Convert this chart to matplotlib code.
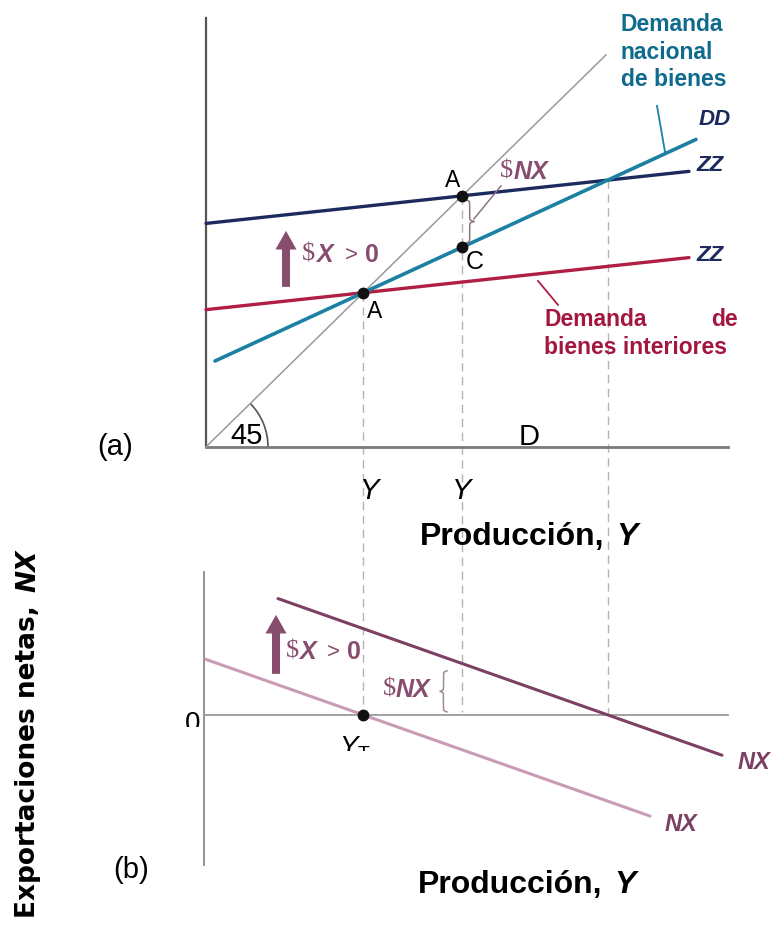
import numpy as np
import matplotlib.pyplot as plt
from matplotlib.patches import Arc, Rectangle

plt.rcParams['font.family'] = ['Liberation Sans', 'DejaVu Sans']
plt.rcParams['mathtext.fontset'] = 'custom'
plt.rcParams['mathtext.rm'] = 'Liberation Sans'
plt.rcParams['mathtext.it'] = 'Liberation Sans:italic'

# panel (a): ZZ = a + b*Y, DD = a + b*Y, 45 degree line Z = Y
zz_intercepts = [1.40, 2.28]     # before / after the rise in exports
zz_slope = 0.11
zz_span = [0.0, 4.83]
dd_intercept = 0.834
dd_slope = 0.47
dd_span = [0.09, 4.90]
diag_span = [0.0, 4.0]

# panel (b): NX = ZZ - DD
nx_spans = [[0.0, 4.44], [0.72, 5.16]]
NX_BASE = -2.735                  # vertical position of NX = 0

NAVY = '#1d2a5e'
TEAL = '#1b80a2'
TEAL_TXT = '#0f6b8c'
RED = '#b01f42'
RED_TXT = '#a3163f'
MAUVE = '#874d6e'
NX_DARK = '#7c4062'
NX_LIGHT = '#c99bb5'
DASH = '#b3b3b3'


def P(x, y):
    # pixel position -> data units
    return (x - 206) / 100, (447 - y) / 98


def zz(i, y):
    return zz_intercepts[i] + zz_slope * np.asarray(y)


def dd(y):
    return dd_intercept + dd_slope * np.asarray(y)


def nx(i, y):
    return zz(i, y) - dd(y)


fig = plt.figure(figsize=(7.77, 9.30), dpi=100)
ax = fig.add_axes([0, 0, 1, 1])
ax.set_xlim(-2.06, 5.71)
ax.set_ylim(-4.93, 4.56)
ax.axis('off')

# equilibrium points
y_t = zz_intercepts[0] / (1 - zz_slope)
y_a2 = zz_intercepts[1] / (1 - zz_slope)
y_end = (zz_intercepts[1] - dd_intercept) / (dd_slope - zz_slope)

# dashed guides running through both panels
ax.plot([y_t, y_t], [y_t, NX_BASE], color=DASH, lw=1, ls=(0, (6, 4)), zorder=1)
ax.plot([y_a2, y_a2], [y_a2, NX_BASE + 0.03], color=DASH, lw=1, ls=(0, (6, 4)), zorder=1)
ax.plot([y_end, y_end], [zz(1, y_end), NX_BASE], color=DASH, lw=1, ls=(0, (6, 4)), zorder=1)

# ---- panel (a) ----
ax.plot([0, 0], [0, P(0, 18)[1]], color='#555555', lw=1.6)
ax.plot([0, P(728, 0)[0]], [0, 0], color='#7a7a7a', lw=2)
ax.plot(diag_span, diag_span, color='#9a9a9a', lw=1.1)
ax.add_patch(Arc((0, 0), 1.24, 1.24 * 100 / 98, theta1=0, theta2=45,
                 color='#555555', lw=1.2))

x = np.array(zz_span)
ax.plot(x, zz(0, x), color=RED, lw=2.4, solid_capstyle='round')
ax.plot(x, zz(1, x), color=NAVY, lw=2.4, solid_capstyle='round')
x = np.array(dd_span)
ax.plot(x, dd(x), color=TEAL, lw=2.6, solid_capstyle='round')

ax.plot([y_t, y_a2, y_a2], [y_t, y_a2, dd(y_a2)], 'o', color='#111111', ms=7.5, zorder=5)


def brace(x0, y0, y1, w, color):
    t = np.linspace(0, 0.5, 80)
    half = 1 / (1 + np.exp(-70 * t)) + 1 / (1 + np.exp(-70 * (t - 0.5))) - 0.5
    prof = np.concatenate([half, half[-2::-1]])
    ax.plot(x0 + w * prof, np.linspace(y0, y1, prof.size), color=color, lw=1.1)


brace(y_a2 + 0.03, dd(y_a2) + 0.04, y_a2 - 0.04, 0.09, '#8f7484')
ax.plot(*zip(P(474, 219), P(501, 186)), color='#8f7484', lw=1.1)

ax.arrow(*P(286, 287), 0, P(0, 231)[1] - P(0, 287)[1], width=0.08, head_width=0.21,
         head_length=0.19, length_includes_head=True, color=MAUVE, lw=0)

# leader lines for the two descriptive labels
ax.plot(*zip(P(657, 106), P(665, 152)), color=TEAL, lw=1.3)
ax.plot(*zip(P(538, 281), P(558, 305)), color=RED, lw=1.3)

txt = dict(va='center', ha='center')
ax.text(*P(115, 447), '(a)', fontsize=21, **txt)
ax.text(*P(247, 436), '45', fontsize=21, **txt)
ax.text(*P(529, 437), 'D', fontsize=21, **txt)
ax.text(*P(370, 491), 'Y', fontsize=21, style='italic', **txt)
ax.text(*P(462, 491), 'Y', fontsize=21, style='italic', **txt)
ax.text(*P(453, 181), 'A', fontsize=16.5, **txt)
ax.text(*P(475, 262), 'C', fontsize=18, **txt)
ax.text(*P(375, 312), 'A', fontsize=16.5, **txt)

ax.text(*P(420, 537), 'Producción,', fontsize=23, weight='bold', va='center', ha='left')
ax.text(*P(627, 537), 'Y', fontsize=23, weight='bold', style='italic', **txt)

for yy, s in zip([25, 53, 80], ['Demanda', 'nacional', 'de bienes']):
    ax.text(*P(621, yy), s, fontsize=16.5, weight='bold', color=TEAL_TXT, va='center', ha='left')
ax.text(*P(544, 320), 'Demanda', fontsize=16.5, weight='bold', color=RED_TXT, va='center', ha='left')
ax.text(*P(738, 320), 'de', fontsize=16.5, weight='bold', color=RED_TXT, va='center', ha='right')
ax.text(*P(544, 348), 'bienes interiores', fontsize=16.5, weight='bold', color=RED_TXT,
        va='center', ha='left')

lab = dict(fontsize=16, weight='bold', style='italic', color=NAVY, va='center', ha='left')
ax.text(*P(699, 120), 'DD', **lab)
ax.text(*P(697, 166), 'ZZ', **lab)
ax.text(*P(697, 256), 'ZZ', **lab)


def delta_label(x0, y0, parts):
    # parts: list of (x offset in px, text, style)
    for dx, s, kw in parts:
        ax.text(*P(x0 + dx, y0), s, color=MAUVE, va='center', ha='left', **kw)


serif = dict(family=['Liberation Serif', 'DejaVu Serif'], fontsize=19)
bit = dict(fontsize=18, weight='bold', style='italic')
delta_label(302, 255, [(0, '$', serif), (14, 'X', bit), (43, '>', dict(fontsize=16)),
                       (63, '0', dict(fontsize=18, weight='bold'))])
delta_label(500, 172, [(0, '$', serif), (14, 'NX', bit)])

# ---- panel (b) ----
ax.plot([-0.02, -0.02], [P(0, 572)[1], P(0, 865)[1]], color='#8a8a8a', lw=1.3)
ax.plot([-0.02, P(728, 0)[0]], [NX_BASE, NX_BASE], color='#9a9a9a', lw=1.3)

for i, col in zip([0, 1], [NX_LIGHT, NX_DARK]):
    x = np.array(nx_spans[i])
    ax.plot(x, NX_BASE + nx(i, x), color=col, lw=2.2, solid_capstyle='round')

ax.plot([y_t], [NX_BASE], 'o', color='#111111', ms=7.5, zorder=5)

ax.arrow(*P(276, 674), 0, P(0, 615)[1] - P(0, 674)[1], width=0.08, head_width=0.21,
         head_length=0.19, length_includes_head=True, color=MAUVE, lw=0)
delta_label(286, 652, [(0, '$', serif), (13, 'X', bit), (41, '>', dict(fontsize=16)),
                       (61, '0', dict(fontsize=18, weight='bold'))])
delta_label(383, 690, [(0, '$', serif), (13, 'NX', bit)])
brace(P(447, 0)[0], NX_BASE + 0.03, NX_BASE + 0.45, -0.07, '#a08a96')

# labels cut off just below the zero line
clip = Rectangle(P(150, 727), 1, 0.3, transform=ax.transData)
t0 = ax.text(*P(193, 724), '0', fontsize=20, clip_on=True, **txt)
t0.set_clip_path(clip)
clip2 = Rectangle(P(330, 751), 0.6, 0.3, transform=ax.transData)
ty = ax.text(*P(355, 748), r'$Y_{\mathrm{T}}$', fontsize=20, clip_on=True, **txt)
ty.set_clip_path(clip2)

nxlab = dict(fontsize=17, weight='bold', style='italic', color=NX_DARK, va='center', ha='left')
ax.text(*P(738, 763), 'NX', **nxlab)
ax.text(*P(665, 825), 'NX', **nxlab)

ax.text(*P(131, 870), '(b)', fontsize=21, **txt)
ax.text(*P(418, 885), 'Producción,', fontsize=23, weight='bold', va='center', ha='left')
ax.text(*P(625, 885), 'Y', fontsize=23, weight='bold', style='italic', **txt)

ax.text(*P(28, 918), 'Exportaciones netas,', fontsize=19, weight='bold',
        family='DejaVu Sans', rotation=90, va='bottom', ha='center')
ax.text(*P(28, 550), 'NX', fontsize=19, weight='bold', style='italic',
        family='DejaVu Sans', rotation=90, va='top', ha='center')

fig.savefig('out.png', dpi=100)
